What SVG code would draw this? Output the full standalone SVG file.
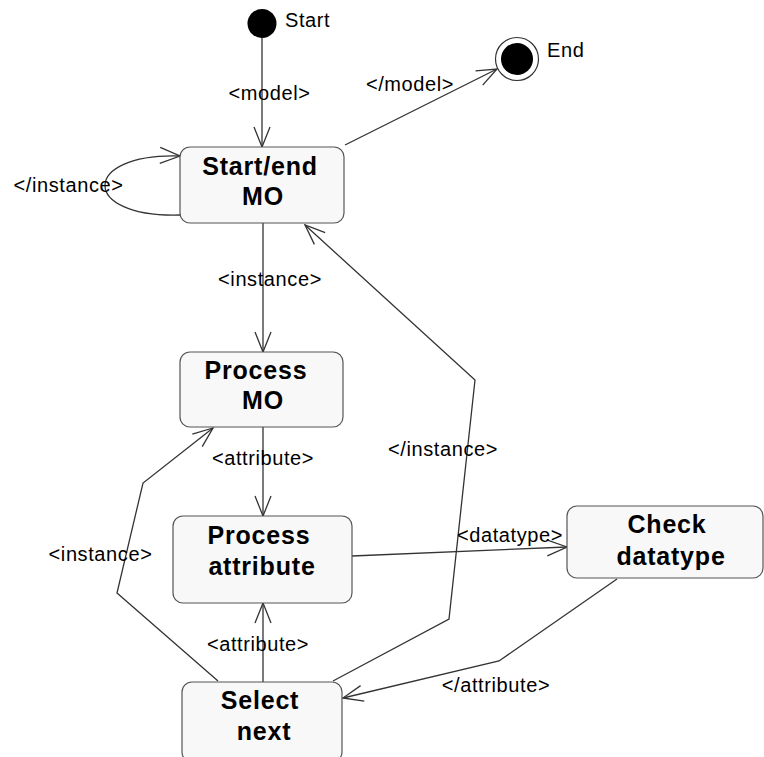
<svg xmlns="http://www.w3.org/2000/svg" width="764" height="757" viewBox="0 0 764 757">
<style>
.node rect{fill:#f8f8f8;stroke:#555;stroke-width:1.2}
.nt{font-family:"Liberation Sans",Arial,sans-serif;font-size:25px;font-weight:bold;fill:#000;text-anchor:middle;letter-spacing:0.8px}
.lb{font-family:"Liberation Sans",Arial,sans-serif;font-size:20px;fill:#000;letter-spacing:0.6px}
.lm{text-anchor:middle}
.c{fill:none;stroke:#333;stroke-width:1.3}
</style>
<defs>
<marker id="arr" viewBox="-22 -10 24 20" refX="0" refY="0" markerWidth="24" markerHeight="20" markerUnits="userSpaceOnUse" orient="auto">
<path d="M-20,-8 L0,0 L-20,8" fill="none" stroke="#333" stroke-width="1.3"/>
</marker>
</defs>
<rect width="764" height="757" fill="#fff"/>
<g id="connectors">
<path class="c" d="M262,38 L262,147" marker-end="url(#arr)"/>
<path class="c" d="M345,145 L497,69" marker-end="url(#arr)"/>
<path class="c" d="M180,215 C80,218 80,153 180,156" marker-end="url(#arr)"/>
<path class="c" d="M263,223 L263,352" marker-end="url(#arr)"/>
<path class="c" d="M263,427 L263,516" marker-end="url(#arr)"/>
<path class="c" d="M352,556 L567,547" marker-end="url(#arr)"/>
<path class="c" d="M617,579 L499,661 L343,698" marker-end="url(#arr)"/>
<path class="c" d="M263,682 L263,603" marker-end="url(#arr)"/>
<path class="c" d="M218,681 L117,593 L143,483 L213,428" marker-end="url(#arr)"/>
<path class="c" d="M333,681 L449,619 L475,380 L305,225" marker-end="url(#arr)"/>
<text class="lb lm" x="269.5" y="100">&lt;model&gt;</text>
<text class="lb lm" x="410" y="91">&lt;/model&gt;</text>
<text class="lb lm" x="68.5" y="192">&lt;/instance&gt;</text>
<text class="lb lm" x="270" y="286">&lt;instance&gt;</text>
<text class="lb lm" x="263" y="465">&lt;attribute&gt;</text>
<text class="lb lm" x="510" y="542">&lt;datatype&gt;</text>
<text class="lb lm" x="443" y="456">&lt;/instance&gt;</text>
<text class="lb lm" x="100.5" y="561">&lt;instance&gt;</text>
<text class="lb lm" x="258" y="651">&lt;attribute&gt;</text>
<text class="lb lm" x="496" y="692">&lt;/attribute&gt;</text>
</g>
<g id="start">
<circle cx="262" cy="23.5" r="14.5" fill="#000"/>
<text class="lb" x="285" y="27">Start</text>
</g>
<g id="end">
<circle cx="517" cy="59" r="21.5" fill="#fff" stroke="#333" stroke-width="1.2"/>
<circle cx="517" cy="59" r="16" fill="#000"/>
<text class="lb" x="547" y="57">End</text>
</g>
<g id="startEndMO" class="node">
<rect x="180" y="147" width="164" height="76" rx="10"/>
<text class="nt" x="260" y="175">Start/end</text>
<text class="nt" x="263" y="205">MO</text>
</g>
<g id="processMO" class="node">
<rect x="180" y="352" width="163" height="75" rx="10"/>
<text class="nt" x="256" y="379">Process</text>
<text class="nt" x="263" y="409">MO</text>
</g>
<g id="processAttribute" class="node">
<rect x="173" y="516" width="179" height="87" rx="10"/>
<text class="nt" x="259" y="544">Process</text>
<text class="nt" x="262" y="575">attribute</text>
</g>
<g id="checkDatatype" class="node">
<rect x="567" y="506" width="196" height="72" rx="10"/>
<text class="nt" x="667" y="533">Check</text>
<text class="nt" x="671" y="565">datatype</text>
</g>
<g id="selectNext" class="node">
<rect x="182" y="682" width="160" height="80" rx="10"/>
<text class="nt" x="260" y="709">Select</text>
<text class="nt" x="264" y="740">next</text>
</g>
</svg>
